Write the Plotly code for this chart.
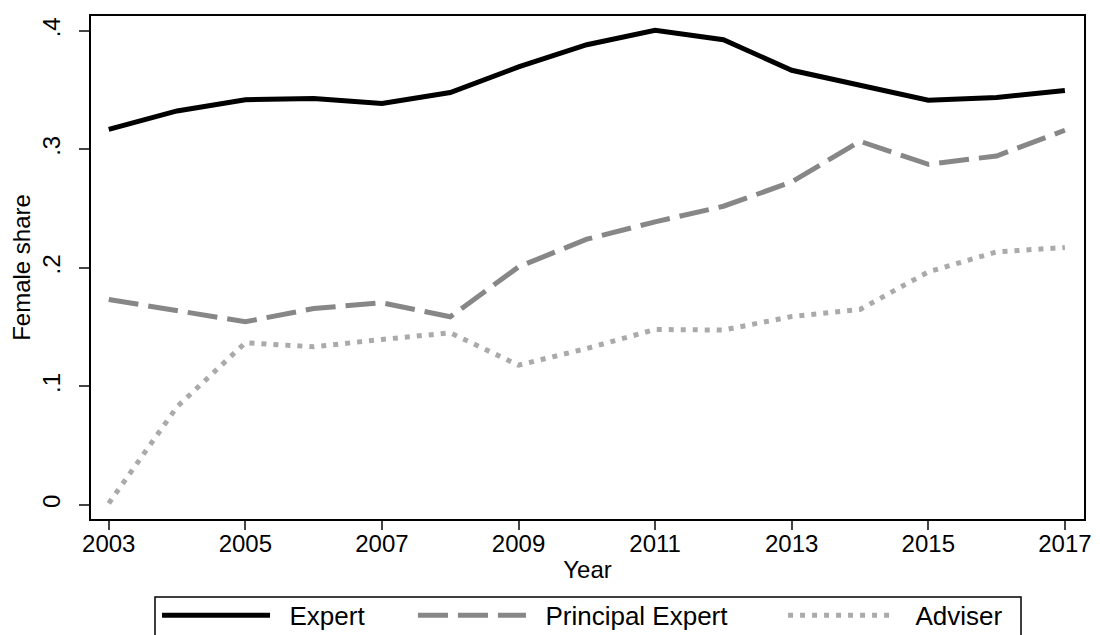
import plotly.graph_objects as go

years = list(range(2003, 2018))
expert = [0.317, 0.3325, 0.342, 0.343, 0.3387, 0.348, 0.3696, 0.3884, 0.4005,
          0.3926, 0.3668, 0.354, 0.3415, 0.3438, 0.3497]
principal = [0.1734, 0.164, 0.1546, 0.1658, 0.1706, 0.1588, 0.2009, 0.2243,
             0.2389, 0.2521, 0.2726, 0.3069, 0.2875, 0.2945, 0.3162]
adviser = [0.0014, 0.0829, 0.1369, 0.1335, 0.1397, 0.1453, 0.118, 0.1321,
           0.1481, 0.1476, 0.159, 0.165, 0.1967, 0.2136, 0.2173]

series_names = ["Expert", "Principal Expert", "Adviser"]
x_ticks = list(range(2003, 2018, 2))
y_ticks = [0, 0.1, 0.2, 0.3, 0.4]
y_ticktext = ["0", ".1", ".2", ".3", ".4"]

FONT = "Arial, Liberation Sans, sans-serif"
NB = "\u00a0"
trail = [6, 7, 2]


def legend_label(i):
    return NB * 2 + series_names[i] + NB * trail[i]


fig = go.Figure()
fig.add_trace(go.Scatter(x=years, y=expert, mode="lines", name=legend_label(0),
                         line=dict(color="black", width=5)))
fig.add_trace(go.Scatter(x=years, y=principal, mode="lines", name=legend_label(1),
                         line=dict(color="#878787", width=5, dash="30px,10px")))
fig.add_trace(go.Scatter(x=years, y=adviser, mode="lines", name=legend_label(2),
                         line=dict(color="#aaaaaa", width=5, dash="5px,7px")))

fig.update_layout(
    width=1100, height=635,
    margin=dict(l=91, r=16, t=16, b=116, autoexpand=False),
    paper_bgcolor="white", plot_bgcolor="white",
    font=dict(family=FONT, size=24, color="black"),
    showlegend=True,
    legend=dict(orientation="h", x=0.0665, xanchor="left", y=-0.145, yanchor="top",
                borderwidth=0, bgcolor="rgba(0,0,0,0)",
                itemwidth=108, font=dict(size=26), traceorder="normal"),
    shapes=[dict(type="rect", xref="paper", yref="paper",
                 x0=0.06445, x1=0.93656, y0=-0.15507, y1=-0.35,
                 line=dict(color="black", width=1.5), fillcolor="rgba(0,0,0,0)",
                 layer="below")],
)
fig.update_xaxes(range=[2002.74, 2017.28], tickvals=x_ticks, ticks="outside", ticklen=9,
                 tickwidth=1.5, showline=True, linecolor="black", linewidth=1.5, mirror=True,
                 showgrid=False, zeroline=False, ticklabelstandoff=-7,
                 title=dict(text="Year", standoff=6, font=dict(size=24)),
                 tickfont=dict(size=24))
fig.update_yaxes(range=[-0.0118, 0.4126], tickvals=y_ticks, ticktext=y_ticktext,
                 ticks="outside", ticklen=10, tickwidth=1.5, tickangle=-90,
                 showline=True, linecolor="black", linewidth=1.5, mirror=True,
                 showgrid=False, zeroline=False, ticklabelstandoff=10,
                 title=dict(text="Female share", standoff=0, font=dict(size=24)),
                 tickfont=dict(size=24))

fig.write_html("out.html")
